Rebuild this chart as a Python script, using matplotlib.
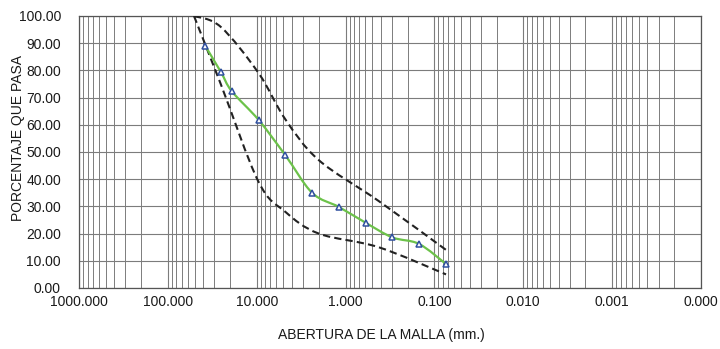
import numpy as np
import matplotlib
matplotlib.use("Agg")
import matplotlib.pyplot as plt
from matplotlib.path import Path
from matplotlib.patches import PathPatch
from matplotlib.ticker import FixedLocator, FuncFormatter

plt.rcParams['font.family'] = ['Liberation Sans', 'DejaVu Sans']

# muestra (tamiz en mm, % que pasa)
sieve_mm = [38.1, 25.4, 19.05, 9.525, 4.76, 2.38, 1.19, 0.595, 0.297, 0.149, 0.074]
passing = [89.1, 79.5, 72.3, 61.8, 48.8, 35.0, 29.8, 24.0, 18.6, 16.2, 8.8]

# huso granulometrico
spec_mm = [50.8, 25.4, 9.525, 4.76, 2.0, 0.425, 0.074]
spec_upper = [100, 96, 79, 62, 47, 32, 14]
spec_lower = [100, 75, 39, 28, 20, 15, 5]

x_ticks = [1000, 100, 10, 1, 0.1, 0.01, 0.001, 0.0001]
y_ticks = [0, 10, 20, 30, 40, 50, 60, 70, 80, 90, 100]


def smooth_line(ax, xs, ys, **kw):
    # curva suavizada tipo Excel (Bezier en espacio log-x)
    u = np.log10(xs)
    y = np.asarray(ys, dtype=float)
    n = len(u)
    verts = [(xs[0], y[0])]
    codes = [Path.MOVETO]
    for i in range(n - 1):
        a = max(i - 1, 0)
        b = min(i + 2, n - 1)
        c1 = (u[i] + (u[i + 1] - u[a]) / 6, y[i] + (y[i + 1] - y[a]) / 6)
        c2 = (u[i + 1] - (u[b] - u[i]) / 6, y[i + 1] - (y[b] - y[i]) / 6)
        verts += [(10 ** c1[0], c1[1]), (10 ** c2[0], c2[1]), (xs[i + 1], y[i + 1])]
        codes += [Path.CURVE4] * 3
    ax.add_patch(PathPatch(Path(verts, codes), fill=False, **kw))


fig = plt.figure(figsize=(7.2, 3.49), dpi=100)
ax = fig.add_axes([0.1097, 0.1748, 0.8639, 0.7794])

ax.set_xscale('log')
ax.set_xlim(1000, 0.0001)
ax.set_ylim(0, 100)

ax.xaxis.set_major_locator(FixedLocator(x_ticks))
ax.xaxis.set_major_formatter(FuncFormatter(lambda v, p: f'{v:.3f}'))
ax.yaxis.set_major_locator(FixedLocator(y_ticks))
ax.yaxis.set_major_formatter(FuncFormatter(lambda v, p: f'{v:.2f}'))
ax.tick_params(axis='both', which='both', length=0, labelsize=10, colors='#1a1a1a')
ax.tick_params(axis='x', pad=5)
ax.tick_params(axis='y', pad=13)

ax.grid(True, which='major', color='#7c7c7c', linewidth=0.8)
ax.grid(True, which='minor', axis='x', color='#7c7c7c', linewidth=0.7)
for s in ax.spines.values():
    s.set_color('#555555')
    s.set_linewidth(0.9)

smooth_line(ax, spec_mm, spec_upper, edgecolor='#222222', linewidth=1.5,
            linestyle=(0, (3.5, 2)), zorder=3)
smooth_line(ax, spec_mm, spec_lower, edgecolor='#222222', linewidth=1.5,
            linestyle=(0, (3.5, 2)), zorder=3)
smooth_line(ax, sieve_mm, passing, edgecolor='#6cc24a', linewidth=1.6, zorder=4)
ax.plot(sieve_mm, passing, linestyle='none', marker='^', markersize=5,
        markerfacecolor='white', markeredgecolor='#2f4f9f', markeredgewidth=1.1, zorder=5)

ax.set_xlabel('ABERTURA DE LA MALLA (mm.)', fontsize=10, labelpad=14, color='#1a1a1a')
ax.xaxis.label.set_x(0.486)
ax.set_ylabel('PORCENTAJE QUE PASA', fontsize=10, color='#1a1a1a')
ax.yaxis.set_label_coords(-0.087, 0.55)

fig.savefig('out.png', dpi=100)
